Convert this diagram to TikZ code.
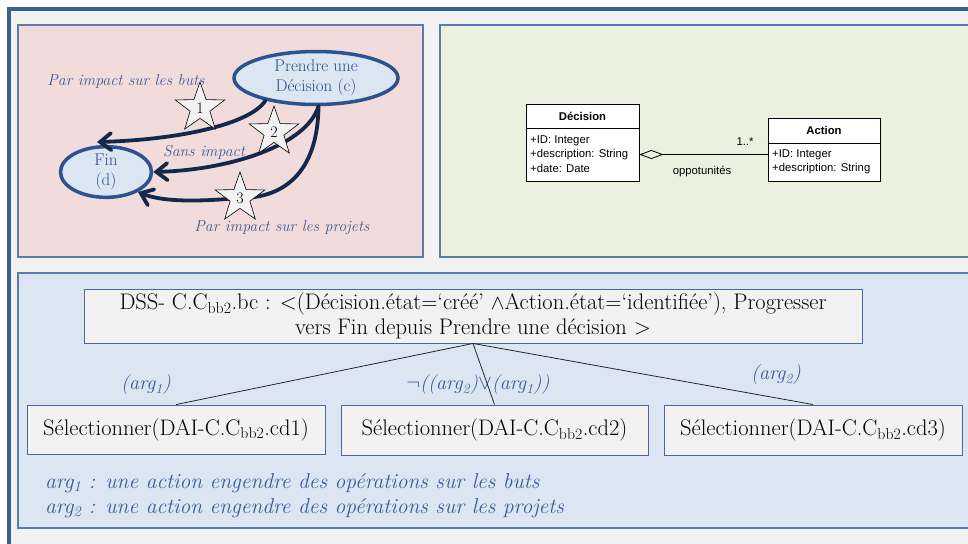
\documentclass[tikz,border=0pt]{standalone}
\usepackage{fontspec}
\newfontfamily\umlfont{Liberation Sans}
\usetikzlibrary{shapes.geometric,arrows.meta}
\definecolor{frameblue}{HTML}{3B6096}
\definecolor{bggrey}{HTML}{F2F2F2}
\definecolor{pinkbg}{HTML}{F2DCDB}
\definecolor{greenbg}{HTML}{EBF1DE}
\definecolor{bluebg}{HTML}{DCE6F2}
\definecolor{panelborder}{HTML}{5B7BAE}
\definecolor{ellborder}{HTML}{2C5290}
\definecolor{ellfill}{HTML}{DCE6F2}
\definecolor{arrowcol}{HTML}{14284B}
\definecolor{textblue}{HTML}{2B4C88}
\definecolor{labelblue}{HTML}{3A5B98}
\definecolor{boxborder}{HTML}{4A6A9E}
\begin{document}
\begin{tikzpicture}[x=1pt,y=-1pt,
  panel/.style={draw=panelborder, line width=1.2pt},
  ell/.style={ellipse, draw=ellborder, line width=3.5pt, fill=ellfill, inner sep=0pt, align=center, text=textblue, font=\fontsize{17}{20}\selectfont},
  flow/.style={draw=arrowcol, line width=3.8pt, line cap=round, -{Straight Barb[length=11pt,width=17pt,line cap=round]}},
  flowplain/.style={draw=arrowcol, line width=3.8pt, line cap=round},
  num/.style={star, star points=5, star point ratio=2.5, minimum size=52pt, inner sep=0pt, draw=black, line width=0.6pt, fill=bggrey, font=\fontsize{16}{18}\selectfont},
  lbl/.style={text=labelblue, font=\fontsize{15.8}{18}\selectfont\itshape, inner sep=0pt},
  argl/.style={text=labelblue, font=\fontsize{20}{24}\selectfont\itshape, inner sep=0pt},
  notel/.style={text=labelblue, font=\fontsize{21.5}{24}\selectfont\itshape, inner sep=0pt},
  box/.style={draw=boxborder, line width=0.9pt, fill=bggrey, inner sep=0pt, align=center, font=\fontsize{22.5}{25}\selectfont},
  tree/.style={draw=black!85, line width=0.8pt},
  umlbox/.style={draw=black, line width=0.8pt, fill=white, inner sep=0pt},
  umltxt/.style={font=\umlfont\fontsize{11.3}{13}\selectfont, inner sep=0pt},
]
\useasboundingbox (0,0) rectangle (968,543);
% outer frame
\fill[white] (0,0) rectangle (968,543);
\fill[bggrey] (9,9) rectangle (975,550);
\draw[frameblue, line width=4pt] (9,550) -- (9,9) -- (975,9);
% panels
\fill[pinkbg] (18,25) rectangle (423,257);
\draw[panel] (18,25) rectangle (423,257);
\fill[greenbg] (440,25) rectangle (975,257);
\draw[panel] (975,25) -- (440,25) -- (440,257) -- (975,257);
\fill[bluebg] (18,273) rectangle (975,528);
\draw[panel] (975,273) -- (18,273) -- (18,528) -- (975,528);

% ---- top-left panel ----
\node[lbl] (l1) at (126,82) {Par impact sur les buts};
\node[lbl] (l2) at (204,152) {Sans impact};
\node[lbl] (l3) at (282,228) {Par impact sur les projets};
\node[ell, minimum width=164pt, minimum height=53pt] (pc) at (316,78) {Prendre une\\Décision (c)};
\node[ell, minimum width=91pt, minimum height=45pt] (fin) at (106,172) {Fin\\(d)};
\coordinate (e1) at (97,142);
\coordinate (c1) at (200,108);
\coordinate (c2) at (274,132);
\coordinate (c3) at (240,198);
\draw[flow] (pc.204) .. controls (250,125) and (175,140) .. (e1);
\draw[flow] (pc.275) .. controls (307,145) and (230,170) .. (fin.east);
\draw[flowplain] (pc.275) .. controls (318,168) and (288,198) .. (c3);
\draw[flow] (c3) .. controls (205,201) and (165,203) .. (fin.-32);
\node[num] (s1) at (c1) {1};
\node[num] (s2) at (c2) {2};
\node[num] (s3) at (c3) {3};

% ---- UML panel ----
\node[umlbox, minimum width=113pt, minimum height=77pt] (dec) at (582.5,142.5) {};
\draw[line width=0.8pt] (dec.west |- 0,128) -- (dec.east |- 0,128);
\node[umltxt, font=\umlfont\bfseries\fontsize{11.3}{13}\selectfont] (dech) at (582.5,116) {Décision};
\node[umltxt, anchor=west] (da1) at (530,141) {+ID: Integer};
\node[umltxt, anchor=west] (da2) at (530,154.5) {+description: String};
\node[umltxt, anchor=west] (da3) at (530,168) {+date: Date};
\node[umlbox, minimum width=112pt, minimum height=63pt] (act) at (824,149.5) {};
\draw[line width=0.8pt] (act.west |- 0,143) -- (act.east |- 0,143);
\node[umltxt, font=\umlfont\bfseries\fontsize{11.3}{13}\selectfont] (acth) at (824,130) {Action};
\node[umltxt, anchor=west] (aa1) at (772,154.5) {+ID: Integer};
\node[umltxt, anchor=west] (aa2) at (772,168.5) {+description: String};
\draw[line width=0.8pt, {Diamond[open,length=24pt,width=9pt]}-] (dec.east |- da2) -- (act.west |- da2);
\node[umltxt] (mult) at (745,142) {1..*};
\node[umltxt] (role) at (702,172) {oppotunités};

% ---- bottom panel ----
\node[box, minimum width=778pt, minimum height=54pt] (dss) at (473,316)
  {DSS- C.C\textsubscript{bb2}.bc : <(Décision.état=‘créé’ $\wedge$Action.état=‘identifiée’), Progresser\\vers Fin depuis Prendre une décision >};
\node[box, minimum width=298pt, minimum height=49pt] (b1) at (176,429.5) {Sélectionner(DAI-C.C\textsubscript{bb2}.cd1)};
\node[box, minimum width=307pt, minimum height=50pt] (b2) at (494.5,430) {Sélectionner(DAI-C.C\textsubscript{bb2}.cd2)};
\node[box, minimum width=298pt, minimum height=50pt] (b3) at (813,430) {Sélectionner(DAI-C.C\textsubscript{bb2}.cd3)};
\node[argl] (g1) at (146,385) {(arg\textsubscript{1})};
\node[argl] (g2) at (478,385) {$\neg$((arg\textsubscript{2})$\vee$(arg\textsubscript{1}))};
\node[argl] (g3) at (776,375) {(arg\textsubscript{2})};
\draw[tree] (dss.south) -- (b1.north);
\draw[tree] (dss.south) -- (b2.north);
\draw[tree] (dss.south) -- (b3.north);
\node[notel, anchor=west] (n1) at (45,483) {arg\textsubscript{1} : une action engendre des opérations sur les buts};
\node[notel, anchor=west] (n2) at (45,508) {arg\textsubscript{2} : une action engendre des opérations sur les projets};
\end{tikzpicture}
\end{document}
